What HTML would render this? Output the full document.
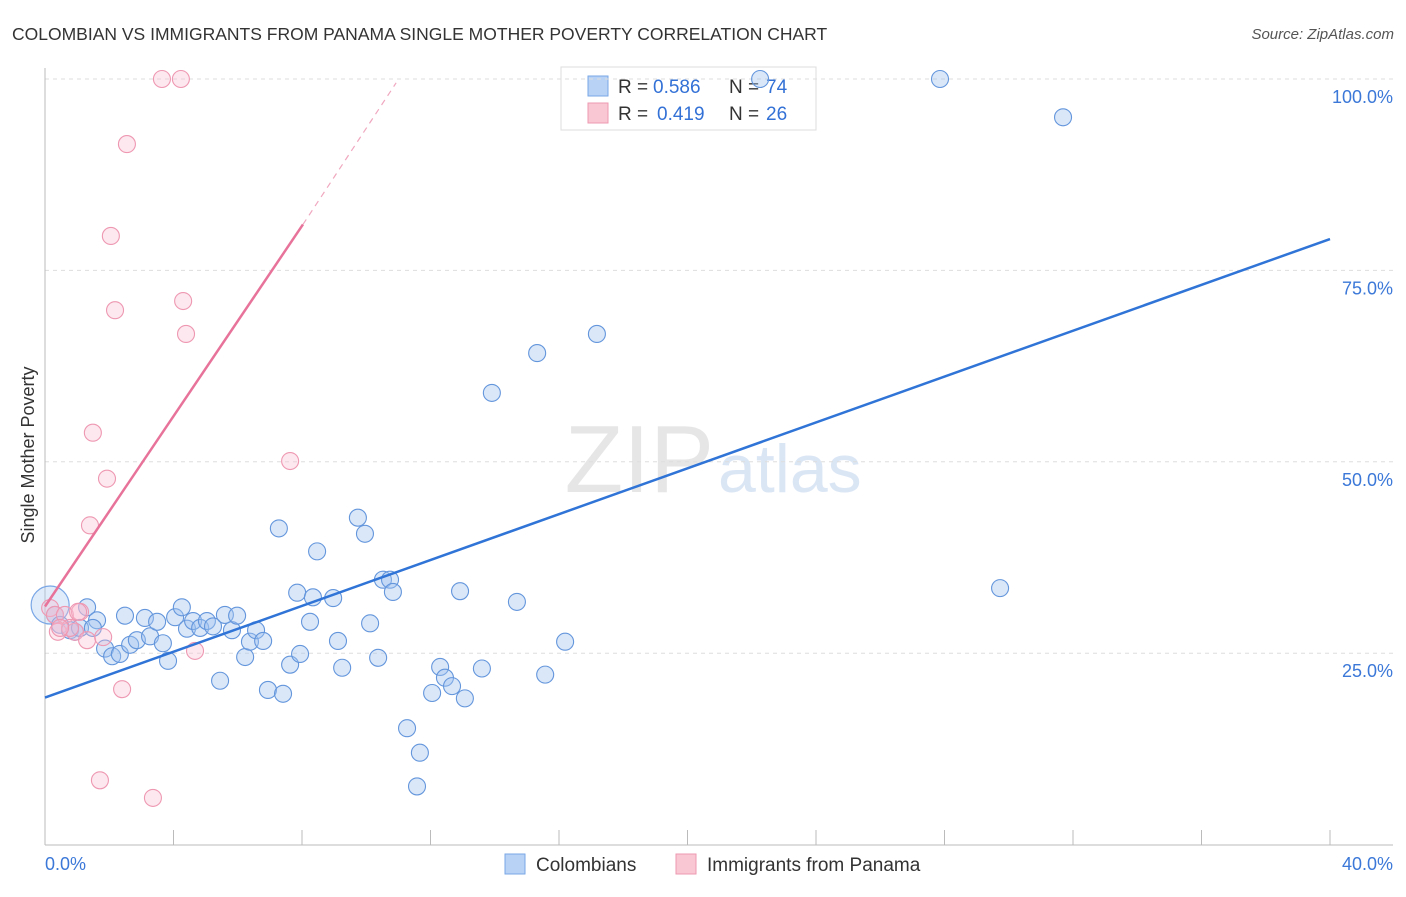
<!DOCTYPE html>
<html><head><meta charset="utf-8"><style>
body{margin:0;background:#fff;font-family:"Liberation Sans",sans-serif}
svg text{font-family:"Liberation Sans",sans-serif}
</style></head><body>
<svg id="c" width="1406" height="892">
<text x="12" y="40" font-size="17.5" fill="#333">COLOMBIAN VS IMMIGRANTS FROM PANAMA SINGLE MOTHER POVERTY CORRELATION CHART</text>
<text x="1394" y="39" font-size="15" fill="#555" text-anchor="end" font-style="italic">Source: ZipAtlas.com</text>
<text x="714" y="492" font-size="96" fill="#e6e6e6" text-anchor="end" font-family="Liberation Serif">ZIP</text>
<text x="718" y="492" font-size="68" fill="#dbe6f5">atlas</text>
<text transform="translate(34,455) rotate(-90)" font-size="18" fill="#333" text-anchor="middle">Single Mother Poverty</text>
<g>
<rect x="561" y="67" width="255" height="63" fill="#fff" stroke="#ddd"/>
<rect x="588" y="76" width="20" height="20" fill="#b8d2f5" stroke="#7aa7e6"/>
<rect x="588" y="103" width="20" height="20" fill="#f9c6d4" stroke="#ee9ab2"/>
<text x="618" y="93" font-size="19" fill="#333">R =</text><text x="653" y="93" font-size="19" fill="#3371d6">0.586</text>
<text x="729" y="93" font-size="19" fill="#333">N =</text><text x="766" y="93" font-size="19" fill="#3371d6">74</text>
<text x="618" y="120" font-size="19" fill="#333">R =</text><text x="657" y="120" font-size="19" fill="#3371d6">0.419</text>
<text x="729" y="120" font-size="19" fill="#333">N =</text><text x="766" y="120" font-size="19" fill="#3371d6">26</text>
</g>
<g id="grid"></g><g id="marks"></g>
<g>
<rect x="505" y="854" width="20" height="20" fill="#b8d2f5" stroke="#7aa7e6"/>
<text x="536" y="871" font-size="19" fill="#333">Colombians</text>
<rect x="676" y="854" width="20" height="20" fill="#f9c6d4" stroke="#ee9ab2"/>
<text x="707" y="871" font-size="19" fill="#333">Immigrants from Panama</text>
</g>
<text x="45" y="870" font-size="18" fill="#3b78d8">0.0%</text>
<text x="1393" y="870" font-size="18" fill="#3b78d8" text-anchor="end">40.0%</text>
</svg>
<script>
const yTicks=[25,50,75,100];
const yTickLabels=["25.0%","50.0%","75.0%","100.0%"];
const blueX=[0.31,0.47,0.78,0.93,1.31,1.09,1.62,1.49,1.87,2.09,2.33,2.49,2.65,2.86,3.11,3.27,3.49,3.67,3.83,4.05,4.26,4.42,4.61,4.83,5.04,5.23,5.45,5.60,5.82,5.98,6.23,6.38,6.57,6.79,6.94,7.28,7.41,7.63,7.85,7.94,8.25,8.34,8.47,8.97,9.12,9.25,9.74,9.96,10.12,10.37,10.52,10.74,10.83,11.27,11.67,11.58,12.05,12.30,12.45,12.67,12.92,13.07,13.60,13.91,14.69,15.32,15.57,16.19,17.18,22.26,27.86,31.69,29.73];
const blueY=[30.0,28.7,28.0,27.8,31.0,28.3,29.3,28.3,25.6,24.6,24.9,29.9,26.1,26.7,29.6,27.2,29.1,26.3,24.0,29.7,31.0,28.2,29.2,28.3,29.2,28.5,21.4,30.0,28.0,29.9,24.5,26.5,28.0,26.6,20.2,41.3,19.7,23.5,32.9,24.9,29.1,32.3,38.3,32.2,26.6,23.1,42.7,40.6,28.9,24.4,34.6,34.6,33.0,15.2,12.0,7.6,19.8,23.2,21.8,20.7,33.1,19.1,23.0,59.0,31.7,64.2,22.2,26.5,66.7,100,100,95.0,33.5];
const pinkX=[0.16,0.31,0.40,0.62,0.93,1.09,1.31,1.40,1.49,1.71,1.93,1.81,2.05,2.18,2.40,2.55,3.36,3.64,4.23,4.30,4.39,4.67,7.63,0.78,0.47,1.03];
const pinkY=[30.9,30.0,27.8,30.0,27.8,30.4,26.7,41.7,53.8,8.4,47.8,27.1,79.5,69.8,20.3,91.5,6.1,100,100,71.0,66.7,25.3,50.1,28.3,28.3,30.4];
const bigPoint=[0.16,31.3];
const blueLine=[[0,19.2],[40,79.1]];
const pinkLine=[[0,31.1],[8.03,81.0]];
const pinkDash=[[8.03,81.0],[10.93,99.5]];
const NS="http://www.w3.org/2000/svg";
const X=v=>45+v/40*1285, Y=v=>844.6-v/100*765.6;
const grid=document.getElementById('grid'), marks=document.getElementById('marks');
function mk(p,tag,a){const e=document.createElementNS(NS,tag);for(const k in a)e.setAttribute(k,a[k]);p.appendChild(e);return e;}
yTicks.forEach((t,i)=>{
 const l=mk(grid,'line',{x1:45,x2:1393,y1:Y(t),y2:Y(t),stroke:'#ddd','stroke-dasharray':'4,4'});
 
 
 const tx=mk(grid,'text',{x:1393,y:Y(t)+24,'font-size':18,fill:'#3b78d8','text-anchor':'end'});
 tx.textContent=yTickLabels[i];
 
 
});
mk(grid,'line',{x1:45,x2:45,y1:68,y2:845,stroke:'#bbb'});
mk(grid,'line',{x1:45,x2:1393,y1:845,y2:845,stroke:'#bbb'});
for(let k=1;k<=10;k++){const t=mk(grid,'line',{x1:X(k*4),x2:X(k*4),y1:830,y2:845,stroke:'#bbb'});
 
 }
const bp=mk(marks,'circle',{cx:X(bigPoint[0]),cy:Y(bigPoint[1]),r:19,fill:'rgba(170,200,240,0.35)',stroke:'#7aa7e6','stroke-width':1.2});


blueX.forEach((x,i)=>{const c=mk(marks,'circle',{cx:X(x),cy:Y(blueY[i]),r:8.5,fill:'rgba(160,196,240,0.4)',stroke:'#6496dc','stroke-width':1.1});
 
 });
pinkX.forEach((x,i)=>{const c=mk(marks,'circle',{cx:X(x),cy:Y(pinkY[i]),r:8.5,fill:'rgba(248,190,208,0.35)',stroke:'#ee98b2','stroke-width':1.1});
 
 });
const bl=mk(marks,'line',{x1:X(blueLine[0][0]),y1:Y(blueLine[0][1]),x2:X(blueLine[1][0]),y2:Y(blueLine[1][1]),stroke:'#2f74d6','stroke-width':2.5});


const pl=mk(marks,'line',{x1:X(pinkLine[0][0]),y1:Y(pinkLine[0][1]),x2:X(pinkLine[1][0]),y2:Y(pinkLine[1][1]),stroke:'#e8739a','stroke-width':2.5});


const pd=mk(marks,'line',{x1:X(pinkDash[0][0]),y1:Y(pinkDash[0][1]),x2:X(pinkDash[1][0]),y2:Y(pinkDash[1][1]),stroke:'#f0a8bf','stroke-width':1.2,'stroke-dasharray':'6,5'});


</script>
</body></html>
